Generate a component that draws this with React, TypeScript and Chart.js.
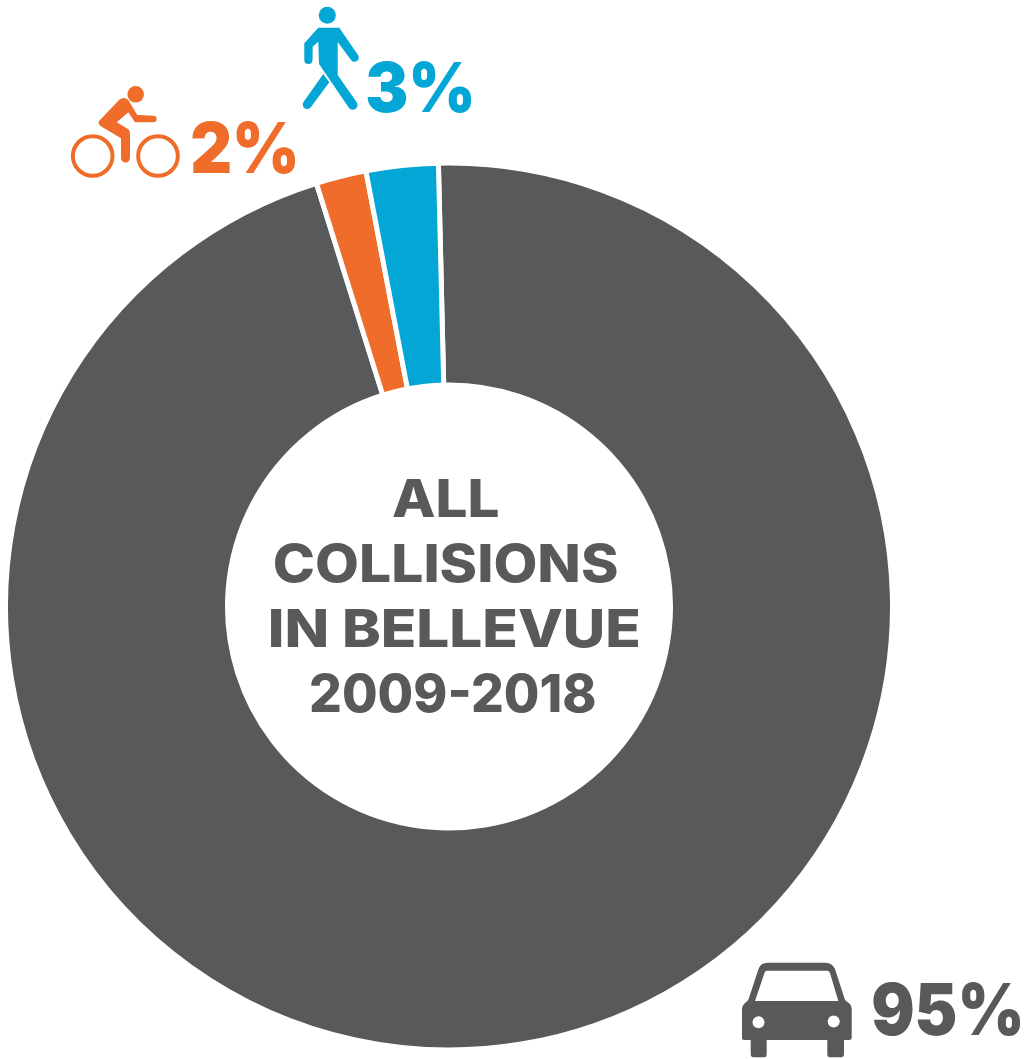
import React, { useEffect, useRef } from "react";
import { Chart, registerables } from "chart.js";

Chart.register(...registerables);

const categories = ["Vehicle", "Bicycle", "Pedestrian"];
// Slice sizes (percent of the ring)
const sliceValues = [95.55, 1.83, 2.62];
const percentLabels = ["95%", "2%", "3%"];
const centerLines = ["ALL", "COLLISIONS", "IN BELLEVUE", "2009-2018"];

const GRAY = "#58595b";
const ORANGE = "#ef6c2a";
const BLUE = "#03a6d5";
const sliceColors = [GRAY, ORANGE, BLUE];

const FONT = "Inter, 'Liberation Sans', sans-serif";

type Box = { x0: number; x1: number; base: number; size: number; color: string; weight: number };

const percentBoxes: Box[] = [
  { x0: 873, x1: 1020, base: 1035, size: 71, color: GRAY, weight: 900 },
  { x0: 192, x1: 296, base: 173, size: 70, color: ORANGE, weight: 900 },
  { x0: 367, x1: 472, base: 112, size: 69, color: BLUE, weight: 900 },
];
const centerBoxes: Box[] = [
  { x0: 393, x1: 498, base: 517, size: 52, color: GRAY, weight: 800 },
  { x0: 275, x1: 617, base: 582, size: 52, color: GRAY, weight: 800 },
  { x0: 270, x1: 639, base: 647, size: 52, color: GRAY, weight: 800 },
  { x0: 311, x1: 595, base: 712, size: 52, color: GRAY, weight: 800 },
];

function fitText(ctx: CanvasRenderingContext2D, text: string, b: Box) {
  ctx.save();
  ctx.font = `${b.weight} ${b.size}px ${FONT}`;
  ctx.fillStyle = b.color;
  ctx.textBaseline = "alphabetic";
  ctx.textAlign = "left";
  const m = ctx.measureText(text);
  const inkW = m.actualBoundingBoxRight + m.actualBoundingBoxLeft;
  const sx = (b.x1 - b.x0) / inkW;
  ctx.translate(b.x0, b.base);
  ctx.scale(sx, 1);
  ctx.fillText(text, m.actualBoundingBoxLeft, 0);
  ctx.restore();
}

const textPlugin = {
  id: "ringText",
  afterDraw(chart: Chart) {
    const ctx = chart.ctx;
    centerLines.forEach((t, i) => fitText(ctx, t, centerBoxes[i]));
    percentLabels.forEach((t, i) => fitText(ctx, t, percentBoxes[i]));
  },
};

function Icons() {
  return (
    <svg
      width={1026}
      height={1059}
      style={{ position: "absolute", left: 0, top: 0, pointerEvents: "none" }}
    >
      {/* pedestrian */}
      <g fill={BLUE}>
        <circle cx={327.3} cy={15.3} r={8.5} />
        <path d="M318.3 27.7 L339.3 27.7 L358 55 A4.2 4.2 0 0 1 351 60 L337.7 42 L337.7 75 L356.5 102 A4.5 4.5 0 0 1 349 108 L319 64 L318.3 41.7 L312.7 46.7 L312.5 60 A4 4 0 0 1 304.3 60 L304.3 43.3 Z" />
        <path d="M323.3 74 L329.3 82.3 L311 107 A4.5 4.5 0 0 1 303.5 102 Z" />
      </g>
      {/* cyclist */}
      <g fill={ORANGE}>
        <circle cx={135.7} cy={94.3} r={8.3} />
        <path d="M99.3 120.7 L119 100 Q124 96 128.3 100 L137.3 115 L153.3 115.7 A3.3 3.3 0 0 1 153.3 122.3 L135 122.3 L128.3 112.3 L116.7 122.3 L128.3 129.3 Q130 131 130 133.3 L130 158 A4.5 4.5 0 0 1 121 158 L121 138.3 L101.7 126.7 Q97 124 99.3 120.7 Z" />
        <circle cx={92.7} cy={156} r={19.8} fill="none" stroke={ORANGE} strokeWidth={4} />
        <circle cx={158} cy={156} r={19.8} fill="none" stroke={ORANGE} strokeWidth={4} />
      </g>
      {/* car */}
      <path
        fill={GRAY}
        fillRule="evenodd"
        d="M768 962.7 L825.5 962.7 Q832 962.7 835 969 L845 1000 L850 1004 Q851.7 1006 851.7 1009 L851.7 1038 Q851.7 1040 849 1040 L844 1040 L844 1054 Q844 1057.3 841 1057.3 L830 1057.3 Q827.3 1057.3 827.3 1054 L827.3 1040 L766.7 1040 L766.7 1054 Q766.7 1057.3 764 1057.3 L753.5 1057.3 Q750.7 1057.3 750.7 1054 L750.7 1040 L745 1040 Q742 1040 742 1038 L742 1009 Q742 1006 744 1004 L748.3 1000 L758.5 969 Q761 962.7 768 962.7 Z M767 970.7 L827 970.7 Q829 970.7 830 973 L838.3 1001 L755 1001 L764.5 973 Q765 970.7 767 970.7 Z"
      />
      <circle cx={758.5} cy={1022.3} r={6} fill="#fff" />
      <circle cx={833.7} cy={1021.5} r={6} fill="#fff" />
    </svg>
  );
}

export default function App() {
  const ref = useRef<HTMLCanvasElement>(null);
  useEffect(() => {
    const chart = new Chart(ref.current!, {
      type: "doughnut",
      data: {
        labels: categories,
        datasets: [
          {
            data: sliceValues,
            backgroundColor: sliceColors,
            borderColor: "#ffffff",
            borderWidth: 5,
            borderJoinStyle: "miter",
          },
        ],
      },
      options: {
        responsive: false,
        animation: false,
        cutout: 221.5,
        rotation: -1.37,
        layout: { padding: { left: 3, right: 131, top: 160, bottom: 6 } },
        plugins: { legend: { display: false }, tooltip: { enabled: false } },
      },
      plugins: [textPlugin],
    } as any);
    return () => chart.destroy();
  }, []);
  return (
    <div style={{ position: "absolute", left: 0, top: 0, width: 1026, height: 1059, background: "#fff" }}>
      <canvas ref={ref} width={1026} height={1059} style={{ display: "block" }} />
      <Icons />
    </div>
  );
}
